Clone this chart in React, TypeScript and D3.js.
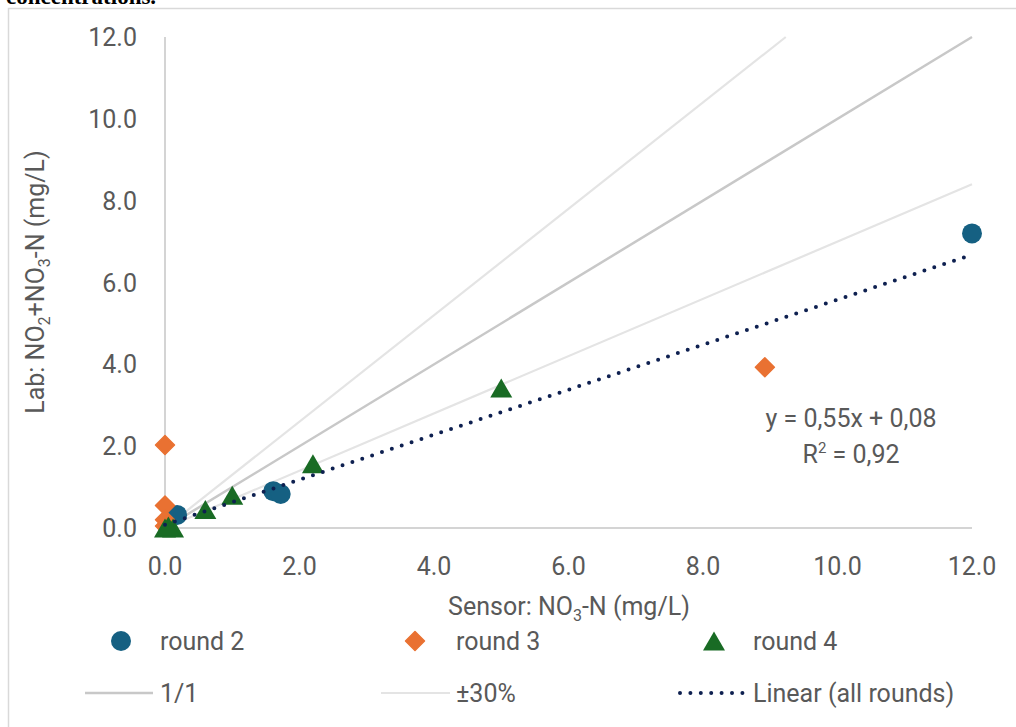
import React from "react";
import * as d3 from "d3";

const xTicks = [0, 2, 4, 6, 8, 10, 12];
const yTicks = [0, 2, 4, 6, 8, 10, 12];

const round2X = [12.0, 1.61, 1.72, 0.18];
const round2Y = [7.2, 0.9, 0.83, 0.32];

const round3X = [0.0, 0.0, 0.0, 0.0, 8.92];
const round3Y = [2.03, 0.55, 0.2, 0.05, 3.93];

const round4X = [5.0, 2.2, 1.0, 0.6, 0.0, 0.12, 0.05];
const round4Y = [3.42, 1.57, 0.8, 0.45, 0.0, 0.0, 0.05];

const trendSlope = 0.55;
const trendIntercept = 0.08;
const trendRange = [0, 12];
const toleranceFactors = [1.3, 0.7];

const W = 1016;
const H = 727;
const m = { left: 165, right: 972, top: 37, bottom: 528 };

const C_BLUE = "#156082";
const C_ORANGE = "#E97132";
const C_GREEN = "#196B24";
const C_NAVY = "#0E2050";
const C_TEXT = "#595959";
const FONT = "Roboto, 'Liberation Sans', sans-serif";
const FS = 25;

const circlePath = (r: number) =>
  `M${r},0A${r},${r},0,1,1,${-r},0A${r},${r},0,1,1,${r},0Z`;
const diamondPath = (r: number) => `M0,${-r}L${r},0L0,${r}L${-r},0Z`;
const trianglePath = (w: number, h: number) =>
  `M0,${-h / 2}L${w / 2},${h / 2}L${-w / 2},${h / 2}Z`;

export default function App() {
  const x = d3.scaleLinear().domain([0, 12]).range([m.left, m.right]);
  const y = d3.scaleLinear().domain([0, 12]).range([m.bottom, m.top]);
  const line = d3
    .line<[number, number]>()
    .x((d) => x(d[0]))
    .y((d) => y(d[1]));

  const oneToOne: [number, number][] = [
    [0, 0],
    [12, 12],
  ];
  const tolLines = toleranceFactors.map((f) => {
    const xe = Math.min(12, 12 / f);
    return [
      [0, 0],
      [xe, xe * f],
    ] as [number, number][];
  });
  const trend: [number, number][] = trendRange.map((v) => [
    v,
    trendSlope * v + trendIntercept,
  ]);

  const r2 = round2X.map((v, i) => [v, round2Y[i]]);
  const r3 = round3X.map((v, i) => [v, round3Y[i]]);
  const r4 = round4X.map((v, i) => [v, round4Y[i]]);

  const diamond = diamondPath(9.5);
  const circle = circlePath(10);
  const tri = trianglePath(22, 19);

  return (
    <svg
      width={W}
      height={H}
      style={{ position: "absolute", left: 0, top: 0, background: "#fff" }}
    >
      <text
        x={6}
        y={4}
        fontFamily="'Liberation Serif', 'DejaVu Serif', serif"
        fontSize={23}
        fontWeight="bold"
        fill="#000"
      >
        concentrations.
      </text>
      <rect x={8.5} y={8.5} width={1200} height={900} fill="#fff" stroke="#d9d9d9" strokeWidth={1.5} />

      {/* axes */}
      <line x1={x(0)} x2={x(0)} y1={y(12)} y2={y(0)} stroke="#d4d4d4" strokeWidth={2} />
      <line x1={x(0)} x2={x(12)} y1={y(0)} y2={y(0)} stroke="#d4d4d4" strokeWidth={2} />

      {yTicks.map((t) => (
        <text
          key={"y" + t}
          x={137}
          y={y(t)}
          dy="0.36em"
          textAnchor="end"
          fontFamily={FONT}
          fontSize={FS}
          fill={C_TEXT}
        >
          {t.toFixed(1)}
        </text>
      ))}
      {xTicks.map((t) => (
        <text
          key={"x" + t}
          x={x(t)}
          y={575}
          textAnchor="middle"
          fontFamily={FONT}
          fontSize={FS}
          fill={C_TEXT}
        >
          {t.toFixed(1)}
        </text>
      ))}

      {/* reference lines */}
      {tolLines.map((l, i) => (
        <path key={"tol" + i} d={line(l) || ""} stroke="#e4e4e4" strokeWidth={2.2} fill="none" />
      ))}
      <path d={line(oneToOne) || ""} stroke="#c8c8c8" strokeWidth={2.5} fill="none" />

      {/* points */}
      {r2.map((d, i) => (
        <path key={"a" + i} d={circle} transform={`translate(${x(d[0])},${y(d[1])})`} fill={C_BLUE} />
      ))}
      {r3.map((d, i) => (
        <path
          key={"b" + i}
          d={diamond}
          transform={`translate(${x(d[0])},${y(d[1])})`}
          fill={C_ORANGE}
          stroke={C_ORANGE}
          strokeWidth={1.5}
          strokeLinejoin="round"
        />
      ))}
      {r4.map((d, i) => (
        <path key={"c" + i} d={tri} transform={`translate(${x(d[0])},${y(d[1])})`} fill={C_GREEN} />
      ))}

      {/* trend */}
      <path
        d={line(trend) || ""}
        stroke={C_NAVY}
        strokeWidth={4}
        strokeDasharray="0 10.4"
        strokeLinecap="round"
        fill="none"
      />

      {/* equation */}
      <text x={851} y={427} textAnchor="middle" fontFamily={FONT} fontSize={FS} fill={C_TEXT}>
        y = 0,55x + 0,08
      </text>
      <text x={851} y={463} textAnchor="middle" fontFamily={FONT} fontSize={FS} fill={C_TEXT}>
        R<tspan fontSize={15} dy={-10}>2</tspan>
        <tspan dy={10}> = 0,92</tspan>
      </text>

      {/* axis titles */}
      <text x={569} y={615} textAnchor="middle" fontFamily={FONT} fontSize={FS} fill={C_TEXT}>
        Sensor: NO<tspan fontSize={16} dy={6}>3</tspan>
        <tspan dy={-6}>-N (mg/L)</tspan>
      </text>
      <text
        transform={`translate(44,282) rotate(-90)`}
        textAnchor="middle"
        fontFamily={FONT}
        fontSize={FS}
        fill={C_TEXT}
      >
        Lab: NO<tspan fontSize={16} dy={6}>2</tspan>
        <tspan dy={-6}>+NO</tspan>
        <tspan fontSize={16} dy={6}>3</tspan>
        <tspan dy={-6}>-N (mg/L)</tspan>
      </text>

      {/* legend */}
      <path d={circle} transform="translate(121,641)" fill={C_BLUE} />
      <text x={160} y={650} fontFamily={FONT} fontSize={FS} fill={C_TEXT}>round 2</text>
      <path d={diamond} transform="translate(415,641)" fill={C_ORANGE} stroke={C_ORANGE} strokeWidth={1.5} strokeLinejoin="round" />
      <text x={456} y={650} fontFamily={FONT} fontSize={FS} fill={C_TEXT}>round 3</text>
      <path d={tri} transform="translate(714,641)" fill={C_GREEN} />
      <text x={753} y={650} fontFamily={FONT} fontSize={FS} fill={C_TEXT}>round 4</text>

      <line x1={85} x2={153} y1={693} y2={693} stroke="#c8c8c8" strokeWidth={2.5} />
      <text x={160} y={702} fontFamily={FONT} fontSize={FS} fill={C_TEXT}>1/1</text>
      <line x1={381} x2={450} y1={693} y2={693} stroke="#e4e4e4" strokeWidth={2.2} />
      <text x={456} y={702} fontFamily={FONT} fontSize={FS} fill={C_TEXT}>±30%</text>
      <line x1={680} x2={748} y1={693} y2={693} stroke={C_NAVY} strokeWidth={4} strokeDasharray="0 10.4" strokeLinecap="round" />
      <text x={753} y={702} fontFamily={FONT} fontSize={FS} fill={C_TEXT}>Linear (all rounds)</text>
    </svg>
  );
}
